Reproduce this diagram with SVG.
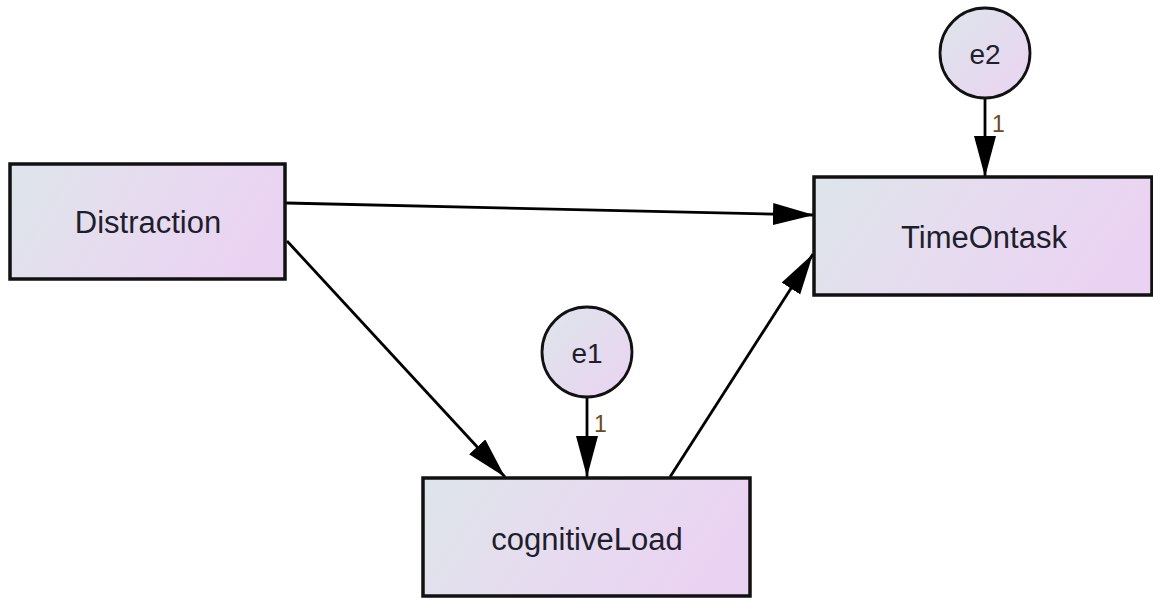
<svg xmlns="http://www.w3.org/2000/svg" width="1153" height="598" viewBox="0 0 1153 598">
  <defs>
    <linearGradient id="boxFill" x1="0" y1="0" x2="1" y2="0.25">
      <stop offset="0" stop-color="#dde5ea"/>
      <stop offset="0.5" stop-color="#e6dcef"/>
      <stop offset="1" stop-color="#ead3f2"/>
    </linearGradient>
    <linearGradient id="circFill" x1="0" y1="0" x2="1" y2="1">
      <stop offset="0" stop-color="#dde5ea"/>
      <stop offset="1" stop-color="#ead3f2"/>
    </linearGradient>
    <marker id="arrow" markerUnits="userSpaceOnUse" markerWidth="44" markerHeight="24" refX="41" refY="11" orient="auto">
      <path d="M0,0 L41,11 L0,22 Z" fill="#000"/>
    </marker>
    <style>
      .box { fill: url(#boxFill); stroke: #111; stroke-width: 3.5; }
      .err { fill: url(#circFill); stroke: #111; stroke-width: 2.8; }
      .lbl { font-family: "Liberation Sans", Arial, sans-serif; font-size: 31px; fill: #1e1e2c; text-anchor: middle; dominant-baseline: central; }
      .elbl { font-family: "Liberation Sans", Arial, sans-serif; font-size: 28px; fill: #1e1e2c; text-anchor: middle; dominant-baseline: central; }
      .wt { font-family: "Liberation Sans", Arial, sans-serif; font-size: 23px; fill: #6a4a20; }
      .edge { stroke: #000; stroke-width: 2.8; fill: none; marker-end: url(#arrow); }
    </style>
  </defs>

  <g id="connectors">
    <line class="edge" x1="286" y1="203" x2="814" y2="215"/>
    <line class="edge" x1="287" y1="241" x2="505" y2="477"/>
    <line class="edge" x1="670" y1="477" x2="813" y2="254"/>
    <line class="edge" x1="587" y1="397" x2="587" y2="477"/>
    <line class="edge" x1="985" y1="98" x2="985" y2="177"/>
    <text class="wt" x="594" y="432">1</text>
    <text class="wt" x="992" y="132">1</text>
  </g>

  <g id="node-distraction">
    <rect class="box" x="10" y="164" width="275" height="115"/>
    <text class="lbl" x="148" y="222">Distraction</text>
  </g>

  <g id="node-timeontask">
    <rect class="box" x="814" y="177" width="338" height="118"/>
    <text class="lbl" x="984" y="237">TimeOntask</text>
  </g>

  <g id="node-cognitiveload">
    <rect class="box" x="423" y="478" width="327" height="118"/>
    <text class="lbl" x="587" y="539">cognitiveLoad</text>
  </g>

  <g id="node-e1">
    <circle class="err" cx="587" cy="352" r="45"/>
    <text class="elbl" x="587" y="353">e1</text>
  </g>

  <g id="node-e2">
    <circle class="err" cx="985" cy="53" r="45"/>
    <text class="elbl" x="985" y="54">e2</text>
  </g>
</svg>
